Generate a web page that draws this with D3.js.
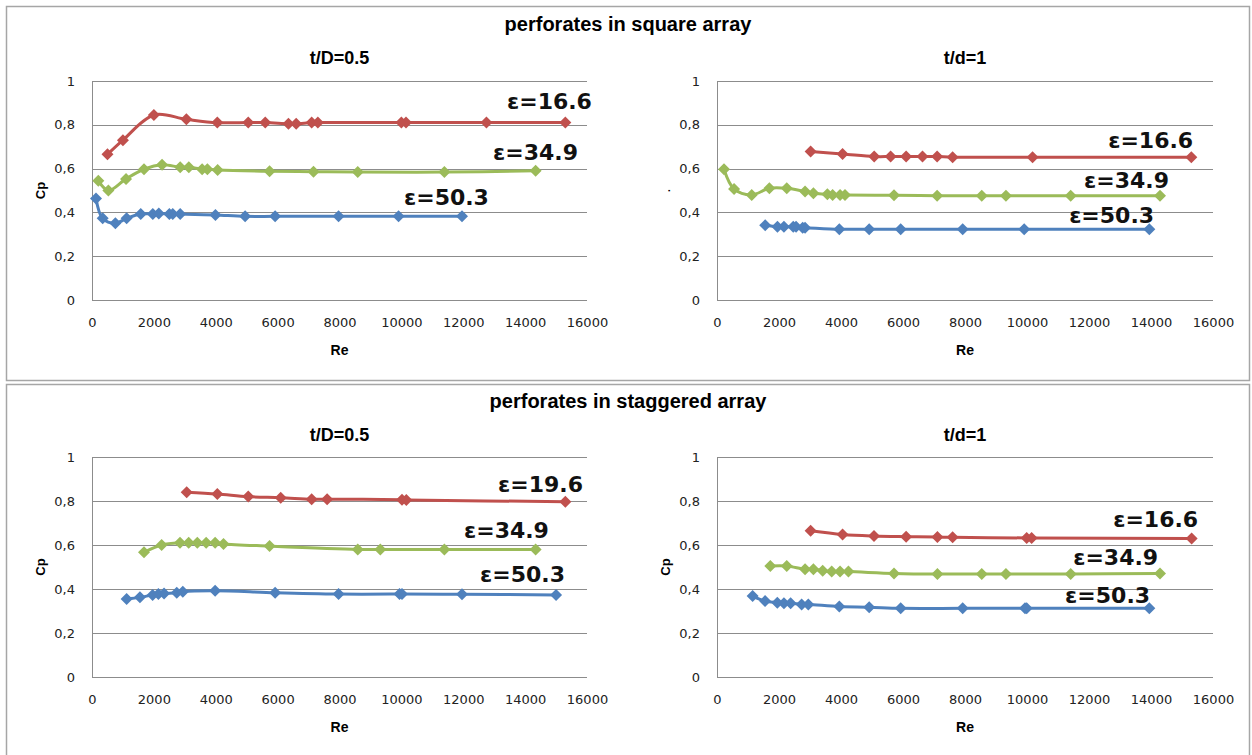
<!DOCTYPE html>
<html>
<head>
<meta charset="utf-8">
<script src="https://cdn.jsdelivr.net/npm/d3@7"></script>
<style>
  body { margin: 0; background: #fff; }
  svg { display: block; }
</style>
</head>
<body>
<script>
// ---- data ----
var xTicks = [0, 2000, 4000, 6000, 8000, 10000, 12000, 14000, 16000]
var yTicks = [0, 0.2, 0.4, 0.6, 0.8, 1]
var yTickLabels = ["0", "0,2", "0,4", "0,6", "0,8", "1"]

// perforates in square array, t/D=0.5
var sqA_re166 = [500, 1000, 2000, 3050, 4050, 5050, 5600, 6350, 6600, 7100, 7300, 10000, 10150, 12750, 15300]
var sqA_cp166 = [0.665, 0.73, 0.845, 0.825, 0.81, 0.81, 0.81, 0.805, 0.805, 0.81, 0.81, 0.81, 0.81, 0.81, 0.81]
var sqA_re349 = [205, 530, 1100, 1680, 2265, 2850, 3130, 3560, 3730, 4060, 5740, 7160, 8590, 11390, 14340]
var sqA_cp349 = [0.545, 0.50, 0.553, 0.597, 0.618, 0.606, 0.606, 0.597, 0.597, 0.594, 0.588, 0.586, 0.584, 0.584, 0.59]
var sqA_re503 = [130, 345, 755, 1120, 1575, 1965, 2160, 2500, 2610, 2850, 3990, 4950, 5920, 7970, 9910, 11960]
var sqA_cp503 = [0.464, 0.373, 0.35, 0.373, 0.393, 0.393, 0.395, 0.393, 0.393, 0.393, 0.388, 0.382, 0.382, 0.382, 0.382, 0.382]

// perforates in square array, t/d=1
var sqB_re166 = [3020, 4050, 5070, 5600, 6100, 6630, 7100, 7600, 10180, 15300]
var sqB_cp166 = [0.678, 0.667, 0.655, 0.655, 0.655, 0.655, 0.655, 0.652, 0.652, 0.652]
var sqB_re349 = [225, 550, 1120, 1690, 2250, 2840, 3110, 3560, 3730, 3970, 4130, 5710, 7100, 8540, 9320, 11410, 14290]
var sqB_cp349 = [0.597, 0.507, 0.48, 0.51, 0.51, 0.495, 0.487, 0.483, 0.48, 0.48, 0.48, 0.478, 0.476, 0.476, 0.476, 0.476, 0.476]
var sqB_re503 = [1555, 1950, 2160, 2460, 2550, 2765, 2840, 3945, 4910, 5925, 7925, 9910, 13945]
var sqB_cp503 = [0.341, 0.335, 0.335, 0.335, 0.335, 0.33, 0.33, 0.323, 0.323, 0.323, 0.323, 0.323, 0.323]

// perforates in staggered array, t/D=0.5
var stA_re196 = [3060, 4050, 5050, 6100, 7100, 7600, 10020, 10160, 15300]
var stA_cp196 = [0.84, 0.832, 0.82, 0.815, 0.808, 0.808, 0.806, 0.805, 0.797]
var stA_re349 = [1680, 2250, 2845, 3125, 3405, 3690, 3980, 4250, 5740, 8590, 9320, 11390, 14340]
var stA_cp349 = [0.567, 0.60, 0.61, 0.61, 0.61, 0.61, 0.61, 0.605, 0.595, 0.58, 0.58, 0.58, 0.58]
var stA_re503 = [1120, 1550, 1960, 2145, 2330, 2740, 2935, 3980, 5920, 7970, 9940, 10020, 11960, 15000]
var stA_cp503 = [0.355, 0.362, 0.373, 0.377, 0.38, 0.383, 0.388, 0.392, 0.383, 0.377, 0.377, 0.377, 0.376, 0.373]

// perforates in staggered array, t/d=1
var stB_re166 = [3020, 4050, 5065, 6100, 7110, 7600, 9990, 10150, 15310]
var stB_cp166 = [0.665, 0.648, 0.641, 0.638, 0.636, 0.635, 0.632, 0.632, 0.63]
var stB_re349 = [1720, 2250, 2840, 3110, 3410, 3700, 3970, 4240, 5710, 7110, 8540, 9320, 11410, 14290]
var stB_cp349 = [0.505, 0.505, 0.49, 0.49, 0.483, 0.479, 0.479, 0.479, 0.471, 0.468, 0.468, 0.468, 0.468, 0.471]
var stB_re503 = [1150, 1550, 1945, 2160, 2375, 2730, 2945, 3945, 4910, 5925, 7925, 9935, 9990, 13945]
var stB_cp503 = [0.368, 0.345, 0.338, 0.335, 0.335, 0.33, 0.33, 0.32, 0.317, 0.312, 0.312, 0.312, 0.312, 0.312]

// series labels: text, right end (Re), baseline (Cp)
var sqA_labels = [["ε=16.6", 16160, 0.872], ["ε=34.9", 15710, 0.639], ["ε=50.3", 12830, 0.434]]
var sqB_labels = [["ε=16.6", 15360, 0.694], ["ε=34.9", 14580, 0.511], ["ε=50.3", 14100, 0.352]]
var stA_labels = [["ε=19.6", 15870, 0.841], ["ε=34.9", 14770, 0.632], ["ε=50.3", 15290, 0.432]]
var stB_labels = [["ε=16.6", 15520, 0.682], ["ε=34.9", 14230, 0.509], ["ε=50.3", 13970, 0.336]]

var RED = "#C0504D", GREEN = "#9BBB59", BLUE = "#4F81BD"

function serie(re, cp, color) {
    return { color: color, pts: re.map((r, i) => [r, cp[i]]) }
}

var paneles = [
    { left: 92, right: 587, top: 81, bottom: 300, title: "t/D=0.5", titleY: 64, ylab: "Cp",
      series: [serie(sqA_re166, sqA_cp166, RED), serie(sqA_re349, sqA_cp349, GREEN), serie(sqA_re503, sqA_cp503, BLUE)],
      labels: sqA_labels },
    { left: 717, right: 1213, top: 81, bottom: 300, title: "t/d=1", titleY: 64, ylab: ".",
      series: [serie(sqB_re166, sqB_cp166, RED), serie(sqB_re349, sqB_cp349, GREEN), serie(sqB_re503, sqB_cp503, BLUE)],
      labels: sqB_labels },
    { left: 92, right: 587, top: 457, bottom: 677, title: "t/D=0.5", titleY: 441, ylab: "Cp",
      series: [serie(stA_re196, stA_cp196, RED), serie(stA_re349, stA_cp349, GREEN), serie(stA_re503, stA_cp503, BLUE)],
      labels: stA_labels },
    { left: 717, right: 1213, top: 457, bottom: 677, title: "t/d=1", titleY: 441, ylab: "Cp",
      series: [serie(stB_re166, stB_cp166, RED), serie(stB_re349, stB_cp349, GREEN), serie(stB_re503, stB_cp503, BLUE)],
      labels: stB_labels }
]

var width = 1252, height = 755

var svg = d3.select("body").append("svg")
    .attr("width", width)
    .attr("height", height)

// marcos de las dos figuras
svg.append("rect").attr("x", 6.5).attr("y", 6.5).attr("width", 1243).attr("height", 374)
    .attr("fill", "none").attr("stroke", "#A6A6A6").attr("stroke-width", 1.5)
svg.append("rect").attr("x", 6.5).attr("y", 384.5).attr("width", 1243).attr("height", 380)
    .attr("fill", "none").attr("stroke", "#A6A6A6").attr("stroke-width", 1.5)

var titleFont = "'Liberation Sans', Arial, sans-serif"
var tickFont = "'DejaVu Sans', Verdana, sans-serif"

svg.append("text").attr("x", 628).attr("y", 31).attr("text-anchor", "middle")
    .attr("font-family", titleFont).attr("font-weight", "bold").attr("font-size", 20)
    .text("perforates in square array")
svg.append("text").attr("x", 628).attr("y", 408).attr("text-anchor", "middle")
    .attr("font-family", titleFont).attr("font-weight", "bold").attr("font-size", 20)
    .text("perforates in staggered array")

var diamond = "M0,-6L6,0L0,6L-6,0Z"

paneles.forEach(function (p) {
    var x = d3.scaleLinear().domain([0, 16000]).range([p.left, p.right])
    var y = d3.scaleLinear().domain([0, 1]).range([p.bottom, p.top])
    var g = svg.append("g")

    // subtitulo
    g.append("text").attr("x", (p.left + p.right) / 2).attr("y", p.titleY)
        .attr("text-anchor", "middle").attr("font-family", titleFont)
        .attr("font-weight", "bold").attr("font-size", 18).text(p.title)

    // rejilla horizontal
    g.selectAll(".grid").data(yTicks).enter().append("line")
        .attr("x1", p.left).attr("x2", p.right)
        .attr("y1", d => Math.round(y(d)) + 0.5).attr("y2", d => Math.round(y(d)) + 0.5)
        .attr("stroke", "#8C8C8C").attr("stroke-width", 1)
    g.append("line").attr("x1", p.left + 0.5).attr("x2", p.left + 0.5)
        .attr("y1", p.top).attr("y2", p.bottom + 1)
        .attr("stroke", "#8C8C8C").attr("stroke-width", 1)

    // ejes
    var ejeY = d3.axisLeft(y).tickValues(yTicks).tickSize(0).tickPadding(17)
        .tickFormat((d, i) => yTickLabels[i])
    var gy = g.append("g").attr("transform", "translate(" + p.left + ",0)").call(ejeY)
    gy.select(".domain").remove()
    gy.selectAll("text").attr("font-family", tickFont).attr("font-size", 13).attr("fill", "#222")

    var ejeX = d3.axisBottom(x).tickValues(xTicks).tickSize(0).tickPadding(18)
        .tickFormat(d3.format("d"))
    var gx = g.append("g").attr("transform", "translate(0," + p.bottom + ")").call(ejeX)
    gx.select(".domain").remove()
    gx.selectAll("text").attr("font-family", tickFont).attr("font-size", 13).attr("fill", "#222")

    g.append("text").attr("x", (p.left + p.right) / 2).attr("y", p.bottom + 55)
        .attr("text-anchor", "middle").attr("font-family", titleFont)
        .attr("font-weight", "bold").attr("font-size", 14).text("Re")

    g.append("text")
        .attr("transform", "translate(" + (p.left - 47) + "," + ((p.top + p.bottom) / 2) + ") rotate(-90)")
        .attr("text-anchor", "middle").attr("font-family", titleFont)
        .attr("font-weight", "bold").attr("font-size", p.ylab == "." ? 10 : 13).text(p.ylab)

    // series
    var linea = d3.line().x(d => x(d[0])).y(d => y(d[1])).curve(d3.curveCatmullRom.alpha(0.5))
    p.series.forEach(function (s) {
        g.append("path").attr("d", linea(s.pts)).attr("fill", "none")
            .attr("stroke", s.color).attr("stroke-width", 3).attr("stroke-linejoin", "round")
        g.selectAll(null).data(s.pts).enter().append("path")
            .attr("d", diamond)
            .attr("transform", d => "translate(" + x(d[0]) + "," + y(d[1]) + ")")
            .attr("fill", s.color)
    })

    // etiquetas epsilon
    g.selectAll(null).data(p.labels).enter().append("text")
        .attr("x", d => x(d[1])).attr("y", d => y(d[2]))
        .attr("text-anchor", "end").attr("font-family", tickFont)
        .attr("font-weight", "bold").attr("font-size", 22).attr("fill", "#111")
        .text(d => d[0])
})
</script>
</body>
</html>
